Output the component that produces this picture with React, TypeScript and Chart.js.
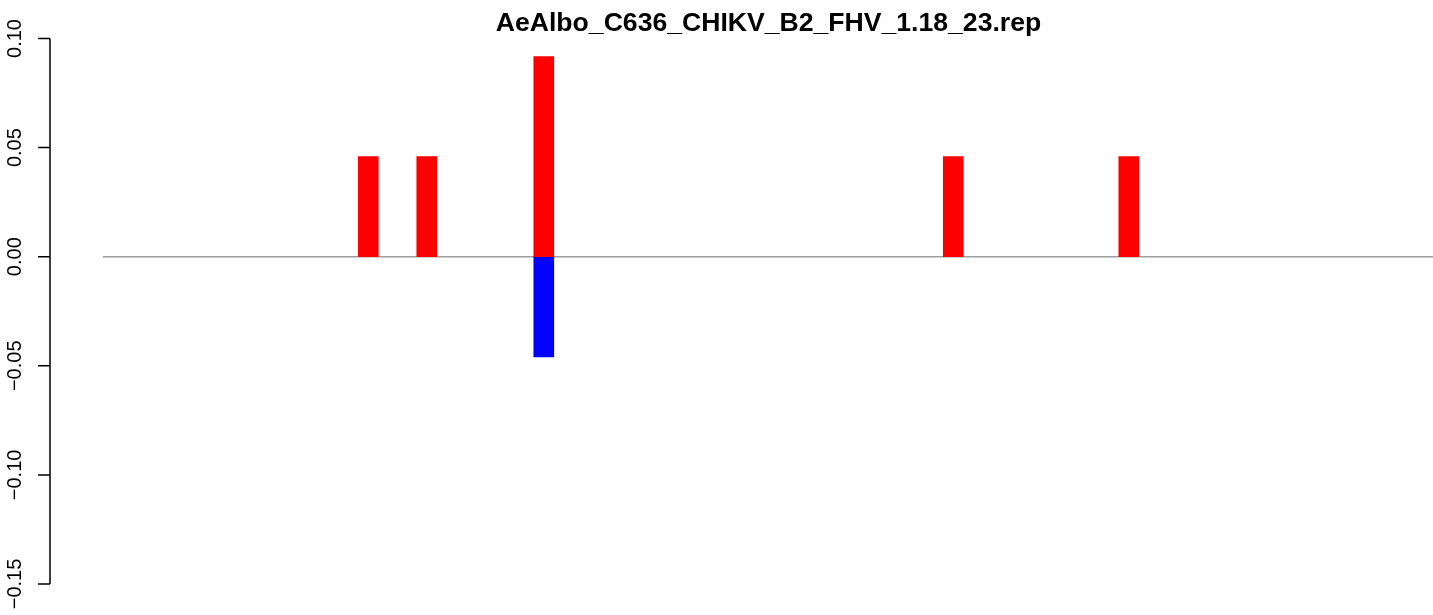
import React, { useEffect, useRef } from "react";
import { Chart, registerables } from "chart.js";

Chart.register(...registerables);

const chartTitle = "AeAlbo_C636_CHIKV_B2_FHV_1.18_23.rep";

// bar positions (x) and values
const positivePositions = [9, 11, 15, 29, 35];
const positiveValues = [0.0459, 0.0459, 0.0917, 0.0459, 0.0459];
const negativePositions = [15];
const negativeValues = [-0.0459];

// y-axis ticks
const yTickValues = [0.1, 0.05, 0, -0.05, -0.1, -0.15];
const yTickLabels = ["0.10", "0.05", "0.00", "\u22120.05", "\u22120.10", "\u22120.15"];

const X_MIN = -0.035;
const X_MAX = 45.4;
const Y_MIN = -0.16;
const Y_MAX = 0.11;

const rPlotPlugin = {
  id: "rPlot",
  beforeDatasetsDraw(chart: any) {
    const { ctx, chartArea } = chart;
    const y = chart.scales.y;
    const y0 = y.getPixelForValue(0);
    ctx.save();
    ctx.strokeStyle = "#9e9e9e";
    ctx.lineWidth = 1.5;
    ctx.beginPath();
    ctx.moveTo(chartArea.left - 1, y0);
    ctx.lineTo(chartArea.right, y0);
    ctx.stroke();
    ctx.restore();
  },
  afterDraw(chart: any) {
    const { ctx, chartArea } = chart;
    const y = chart.scales.y;
    ctx.save();
    // title
    ctx.fillStyle = "#000";
    ctx.font = "bold 26.6px 'Liberation Sans', Arial, sans-serif";
    ctx.textAlign = "center";
    ctx.textBaseline = "alphabetic";
    ctx.fillText(chartTitle, (chartArea.left + chartArea.right) / 2, 31);

    // y axis
    const axisX = 50;
    const top = y.getPixelForValue(yTickValues[0]);
    const bottom = y.getPixelForValue(yTickValues[yTickValues.length - 1]);
    ctx.strokeStyle = "#000";
    ctx.lineWidth = 1.5;
    ctx.beginPath();
    ctx.moveTo(axisX, top);
    ctx.lineTo(axisX, bottom);
    yTickValues.forEach((v) => {
      const py = y.getPixelForValue(v);
      ctx.moveTo(axisX, py);
      ctx.lineTo(axisX - 12, py);
    });
    ctx.stroke();

    ctx.font = "20px 'Liberation Sans', Arial, sans-serif";
    ctx.textAlign = "center";
    ctx.textBaseline = "alphabetic";
    yTickValues.forEach((v, i) => {
      const py = y.getPixelForValue(v);
      ctx.save();
      ctx.translate(20.5, py);
      ctx.rotate(-Math.PI / 2);
      ctx.fillText(yTickLabels[i], 0, 0);
      ctx.restore();
    });
    ctx.restore();
  },
};

export default function App() {
  const canvasRef = useRef<HTMLCanvasElement | null>(null);

  useEffect(() => {
    document.body.style.margin = "0";
    const canvas = canvasRef.current;
    if (!canvas) return;
    const chart = new Chart(canvas, {
      type: "bar",
      data: {
        datasets: [
          {
            data: positivePositions.map((x, i) => ({ x, y: positiveValues[i] })),
            backgroundColor: "#ff0000",
            borderWidth: 0,
            barThickness: 20,
            grouped: false,
          } as any,
          {
            data: negativePositions.map((x, i) => ({ x, y: negativeValues[i] })),
            backgroundColor: "#0000ff",
            borderWidth: 0,
            barThickness: 20,
            grouped: false,
          } as any,
        ],
      },
      options: {
        responsive: false,
        animation: false,
        layout: { padding: { left: 104, right: 0, top: 16.7, bottom: 9.2 } },
        plugins: {
          legend: { display: false },
          tooltip: { enabled: false },
          title: { display: false },
        },
        scales: {
          x: { type: "linear", min: X_MIN, max: X_MAX, display: false, offset: false },
          y: { type: "linear", min: Y_MIN, max: Y_MAX, display: false },
        },
      },
      plugins: [rPlotPlugin],
    });
    return () => chart.destroy();
  }, []);

  return (
    <div style={{ position: "absolute", left: 0, top: 0, width: 1433, height: 615, background: "#fff" }}>
      <canvas ref={canvasRef} width={1433} height={615} />
    </div>
  );
}
